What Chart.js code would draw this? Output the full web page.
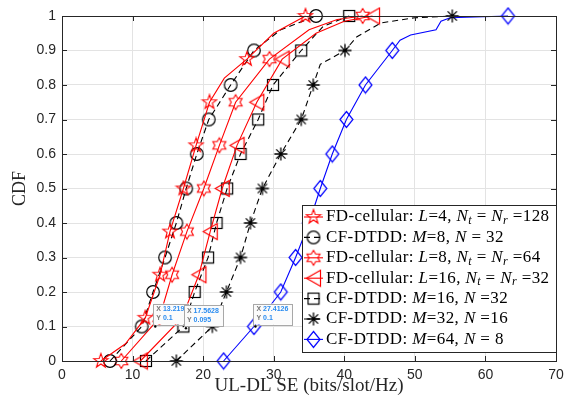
<!DOCTYPE html>
<html>
<head>
<meta charset="utf-8">
<script src="https://cdn.jsdelivr.net/npm/chart.js@4.4.1/dist/chart.umd.min.js"></script>
<style>
html, body { margin: 0; padding: 0; background: #fff; }
#wrap { width: 574px; height: 404px; }
</style>
</head>
<body>
<div id="wrap"><canvas id="grafico"></canvas></div>
<script>
// tick values / labels
const xTicks = [0, 10, 20, 30, 40, 50, 60, 70];
const xTickLabels = ["0", "10", "20", "30", "40", "50", "60", "70"];
const yTicks = [0, 0.1, 0.2, 0.3, 0.4, 0.5, 0.6, 0.7, 0.8, 0.9, 1];
const yTickLabels = ["0", "0.1", "0.2", "0.3", "0.4", "0.5", "0.6", "0.7", "0.8", "0.9", "1"];

// CDF levels where the markers sit
const levels10 = [0, 0.1, 0.2, 0.3, 0.4, 0.5, 0.6, 0.7, 0.8, 0.9, 1];
const levels8 = [0, 0.125, 0.25, 0.375, 0.5, 0.625, 0.75, 0.875, 1];

const labels = [
    "FD-cellular: $L$=4, $N_t$ = $N_r$ =128",
    "CF-DTDD: $M$=8, $N$ = 32",
    "FD-cellular: $L$=8, $N_t$ = $N_r$ =64",
    "FD-cellular: $L$=16, $N_t$ = $N_r$ =32",
    "CF-DTDD: $M$=16, $N$ =32",
    "CF-DTDD: $M$=32, $N$ =16",
    "CF-DTDD: $M$=64, $N$ = 8"
];

// SE values (x) at the marker levels, plus extra points of the curves
const fdL4 = [5.5, 11.8, 13.9, 15.3, 17.2, 19.0, 20.9, 26.2, 34.5];
const fdL4ExtraX = [9.0, 23.0, 30.0];
const fdL4ExtraY = [0.05, 0.82, 0.95];

const cfM8 = [6.8, 11.3, 12.9, 14.6, 16.2, 17.6, 19.1, 20.8, 23.9, 27.2, 36.0];
const cfM8ExtraX = [31.0];
const cfM8ExtraY = [0.96];

const fdL8 = [8.4, 13.8, 15.6, 17.7, 20.1, 22.3, 24.6, 29.4, 42.6];
const fdL8ExtraX = [35.0, 39.0];
const fdL8ExtraY = [0.96, 0.99];

const fdL16 = [11.1, 17.0, 19.4, 21.0, 22.7, 24.8, 27.6, 31.2, 44.0];
const fdL16ExtraX = [36.0, 40.0];
const fdL16ExtraY = [0.95, 0.985];

const cfM16 = [11.9, 17.2, 18.8, 20.7, 21.9, 23.4, 25.3, 27.8, 29.9, 33.9, 40.7];
const cfM16ExtraX = [37.0];
const cfM16ExtraY = [0.97];

const cfM32 = [16.2, 21.3, 23.3, 25.3, 26.7, 28.4, 31.0, 33.9, 35.6, 40.1, 55.3];
const cfM32ExtraX = [36.6, 41.8, 45.2, 50.0];
const cfM32ExtraY = [0.86, 0.94, 0.98, 0.995];

const cfM64 = [22.9, 27.2, 31.0, 33.1, 35.0, 36.6, 38.3, 40.3, 43.0, 46.8, 63.2];
const cfM64ExtraX = [47.9, 49.4, 53.0, 53.7, 55.0];
const cfM64ExtraY = [0.93, 0.945, 0.96, 0.985, 0.995];

// datatips shown on the figure
const tipX = [13.219, 17.5628, 27.4126];
const tipY = [0.1, 0.095, 0.1];

const RED = "#ff0000", BLACK = "#000000", BLUE = "#0000ff";

function newCanvas(s) {
    const c = document.createElement("canvas");
    c.width = s; c.height = s;
    return c;
}

function starMarker(n, outer, inner, color) {
    const s = Math.ceil(outer * 2 + 3);
    const c = newCanvas(s), g = c.getContext("2d");
    g.strokeStyle = color; g.lineWidth = 1.1;
    g.beginPath();
    for (let i = 0; i < n * 2; i++) {
        const r = i % 2 ? inner : outer;
        const a = -Math.PI / 2 + i * Math.PI / n;
        g.lineTo(s / 2 + r * Math.cos(a), s / 2 + r * Math.sin(a));
    }
    g.closePath(); g.stroke();
    return c;
}

function circleMarker(r, color) {
    const s = Math.ceil(r * 2 + 3);
    const c = newCanvas(s), g = c.getContext("2d");
    g.strokeStyle = color; g.lineWidth = 1.2;
    g.beginPath(); g.arc(s / 2, s / 2, r, 0, Math.PI * 2); g.stroke();
    return c;
}

function squareMarker(a, color) {
    const s = Math.ceil(a + 3);
    const c = newCanvas(s), g = c.getContext("2d");
    g.strokeStyle = color; g.lineWidth = 1.2;
    g.strokeRect(s / 2 - a / 2, s / 2 - a / 2, a, a);
    return c;
}

function diamondMarker(w, h, color) {
    const s = Math.ceil(Math.max(w, h) + 3);
    const c = newCanvas(s), g = c.getContext("2d");
    g.strokeStyle = color; g.lineWidth = 1.2;
    g.beginPath();
    g.moveTo(s / 2, s / 2 - h / 2); g.lineTo(s / 2 + w / 2, s / 2);
    g.lineTo(s / 2, s / 2 + h / 2); g.lineTo(s / 2 - w / 2, s / 2);
    g.closePath(); g.stroke();
    return c;
}

function triangleLeftMarker(w, h, color) {
    const s = Math.ceil(Math.max(w, h) + 3);
    const c = newCanvas(s), g = c.getContext("2d");
    g.strokeStyle = color; g.lineWidth = 1.2;
    g.beginPath();
    g.moveTo(s / 2 - w / 2, s / 2); g.lineTo(s / 2 + w / 2, s / 2 - h / 2);
    g.lineTo(s / 2 + w / 2, s / 2 + h / 2);
    g.closePath(); g.stroke();
    return c;
}

function asteriskMarker(r, color) {
    const s = Math.ceil(r * 2 + 3);
    const c = newCanvas(s), g = c.getContext("2d");
    g.strokeStyle = color; g.lineWidth = 1.3;
    g.beginPath();
    for (let k = 0; k < 4; k++) {
        const a = k * Math.PI / 4;
        g.moveTo(s / 2 - r * Math.cos(a), s / 2 - r * Math.sin(a));
        g.lineTo(s / 2 + r * Math.cos(a), s / 2 + r * Math.sin(a));
    }
    g.stroke();
    return c;
}

function buildSeries(levels, marks, extraX, extraY) {
    const pts = levels.map((y, i) => ({ x: marks[i], y: y, m: true }));
    extraX.forEach((x, i) => pts.push({ x: x, y: extraY[i], m: false }));
    pts.sort((a, b) => a.y - b.y || a.x - b.x);
    return {
        data: pts.map(p => ({ x: p.x, y: p.y })),
        radius: pts.map(p => p.m ? 5 : 0)
    };
}

const series = [
    { s: buildSeries(levels8, fdL4, fdL4ExtraX, fdL4ExtraY), color: RED, dash: [], marker: starMarker(5, 7.5, 3.0, RED) },
    { s: buildSeries(levels10, cfM8, cfM8ExtraX, cfM8ExtraY), color: BLACK, dash: [6, 4], marker: circleMarker(6.3, BLACK) },
    { s: buildSeries(levels8, fdL8, fdL8ExtraX, fdL8ExtraY), color: RED, dash: [], marker: starMarker(6, 7.5, 4.4, RED) },
    { s: buildSeries(levels8, fdL16, fdL16ExtraX, fdL16ExtraY), color: RED, dash: [], marker: triangleLeftMarker(14, 16, RED) },
    { s: buildSeries(levels10, cfM16, cfM16ExtraX, cfM16ExtraY), color: BLACK, dash: [6, 4], marker: squareMarker(11, BLACK) },
    { s: buildSeries(levels10, cfM32, cfM32ExtraX, cfM32ExtraY), color: BLACK, dash: [6, 4], marker: asteriskMarker(6.5, BLACK) },
    { s: buildSeries(levels10, cfM64, cfM64ExtraX, cfM64ExtraY), color: BLUE, dash: [], marker: diamondMarker(13, 16, BLUE) }
];

const datasets = series.map((sr, i) => ({
    label: labels[i],
    data: sr.s.data,
    borderColor: sr.color,
    borderWidth: 1.1,
    borderDash: sr.dash,
    pointStyle: sr.marker,
    pointRadius: sr.s.radius,
    pointHoverRadius: sr.s.radius,
    tension: 0,
    fill: false,
    clip: false
}));

// draws legend text with $..$ italic math and _x subscripts
function drawRichText(ctx, text, x, y) {
    const normal = "17px 'Liberation Serif'";
    const italic = "italic 17px 'Liberation Serif'";
    const sub = "italic 12px 'Liberation Serif'";
    ctx.letterSpacing = "0.4px";
    const parts = text.split("$");
    parts.forEach((part, i) => {
        if (i % 2 === 0) {
            ctx.font = normal;
            ctx.fillText(part, x, y);
            x += ctx.measureText(part).width;
        } else {
            const [base, low] = part.split("_");
            ctx.font = italic;
            ctx.fillText(base, x, y);
            x += ctx.measureText(base).width;
            if (low) {
                ctx.font = sub;
                ctx.fillText(low, x, y + 4);
                x += ctx.measureText(low).width;
            }
        }
    });
    ctx.letterSpacing = "0px";
}

const matlabAxes = {
    id: "matlabAxes",
    afterDatasetsDraw(chart) {
        const ctx = chart.ctx;
        const a = chart.chartArea;
        const xs = chart.scales.x, ys = chart.scales.y;
        ctx.save();
        ctx.strokeStyle = "#262626";
        ctx.lineWidth = 1;
        ctx.beginPath();
        xTicks.forEach(v => {
            const px = Math.round(xs.getPixelForValue(v)) + 0.5;
            ctx.moveTo(px, a.bottom); ctx.lineTo(px, a.bottom - 5);
            ctx.moveTo(px, a.top); ctx.lineTo(px, a.top + 5);
        });
        yTicks.forEach(v => {
            const py = Math.round(ys.getPixelForValue(v)) + 0.5;
            ctx.moveTo(a.left, py); ctx.lineTo(a.left + 5, py);
            ctx.moveTo(a.right, py); ctx.lineTo(a.right - 5, py);
        });
        ctx.stroke();
        ctx.strokeRect(Math.round(a.left) + 0.5, Math.round(a.top) + 0.5,
            Math.round(a.right - a.left), Math.round(a.bottom - a.top));

        // datatips
        ctx.font = "bold 7px 'Liberation Sans'";
        ctx.textBaseline = "middle";
        tipX.forEach((tx, i) => {
            const px = xs.getPixelForValue(tx), py = ys.getPixelForValue(tipY[i]);
            const lx = "X ", ly = "Y ";
            const vx = String(tx), vy = String(tipY[i]);
            const w = Math.max(ctx.measureText(lx + vx).width, ctx.measureText(ly + vy).width) + 7;
            const h = 21;
            const left = px - 2, top = py - 2 - h;
            ctx.fillStyle = "#fbfbfb";
            ctx.fillRect(left, top, w, h);
            ctx.strokeStyle = "#a8a8a8";
            ctx.strokeRect(Math.round(left) + 0.5, Math.round(top) + 0.5, Math.round(w), h);
            ctx.fillStyle = "#777";
            ctx.fillText(lx, left + 3, top + 6);
            ctx.fillText(ly, left + 3, top + 15);
            const off = ctx.measureText(lx).width;
            ctx.fillStyle = "#2a8cf0";
            ctx.fillText(vx, left + 3 + off, top + 6);
            ctx.fillText(vy, left + 3 + off, top + 15);
            ctx.fillStyle = "#000";
            ctx.beginPath(); ctx.arc(px, py, 1.2, 0, Math.PI * 2); ctx.fill();
        });

        // legend
        const lx0 = 302, ly0 = 205, lw = a.right - lx0, lh = 147, row = 20.4;
        ctx.fillStyle = "#fff";
        ctx.fillRect(lx0, ly0, lw, lh);
        ctx.strokeStyle = "#262626";
        ctx.lineWidth = 1;
        ctx.strokeRect(lx0 + 0.5, ly0 + 0.5, Math.round(lw), lh);
        ctx.textBaseline = "middle";
        chart.data.datasets.forEach((ds, i) => {
            const cy = ly0 + 12 + i * row;
            ctx.strokeStyle = ds.borderColor;
            ctx.lineWidth = 1.1;
            ctx.setLineDash(ds.borderDash);
            ctx.beginPath(); ctx.moveTo(304, cy); ctx.lineTo(323, cy); ctx.stroke();
            ctx.setLineDash([]);
            const m = ds.pointStyle;
            ctx.drawImage(m, 313.5 - m.width / 2, cy - m.height / 2);
            ctx.fillStyle = "#000";
            drawRichText(ctx, ds.label, 326, cy);
        });
        ctx.restore();
    }
};

new Chart(document.getElementById("grafico"), {
    type: "line",
    data: { datasets },
    plugins: [matlabAxes],
    options: {
        responsive: true,
        maintainAspectRatio: false,
        animation: false,
        events: [],
        layout: { padding: { top: 16, right: 18, left: 0, bottom: 0 } },
        plugins: { legend: { display: false }, tooltip: { enabled: false } },
        scales: {
            x: {
                type: "linear",
                min: 0, max: 70,
                afterBuildTicks: s => { s.ticks = xTicks.map(v => ({ value: v })); },
                afterFit: s => { s.height = 43; },
                ticks: {
                    callback: (v, i) => xTickLabels[i],
                    color: "#262626",
                    font: { family: "'Liberation Sans'", size: 14 },
                    padding: 6,
                    maxRotation: 0
                },
                grid: { color: "#e3e3e3", drawTicks: false },
                border: { display: false },
                title: {
                    display: true,
                    text: "UL-DL SE (bits/slot/Hz)",
                    color: "#262626",
                    font: { family: "'Liberation Serif'", size: 19 },
                    padding: { top: 0, bottom: 7 }
                }
            },
            y: {
                type: "linear",
                min: 0, max: 1,
                afterBuildTicks: s => { s.ticks = yTicks.map(v => ({ value: v })); },
                afterFit: s => { s.width = 62; },
                ticks: {
                    callback: (v, i) => yTickLabels[i],
                    color: "#262626",
                    font: { family: "'Liberation Sans'", size: 14 },
                    padding: 6
                },
                grid: { color: "#e3e3e3", drawTicks: false },
                border: { display: false },
                title: {
                    display: true,
                    text: "CDF",
                    color: "#262626",
                    font: { family: "'Liberation Serif'", size: 18 },
                    padding: { top: 9, bottom: 0 }
                }
            }
        }
    }
});
</script>
</body>
</html>
